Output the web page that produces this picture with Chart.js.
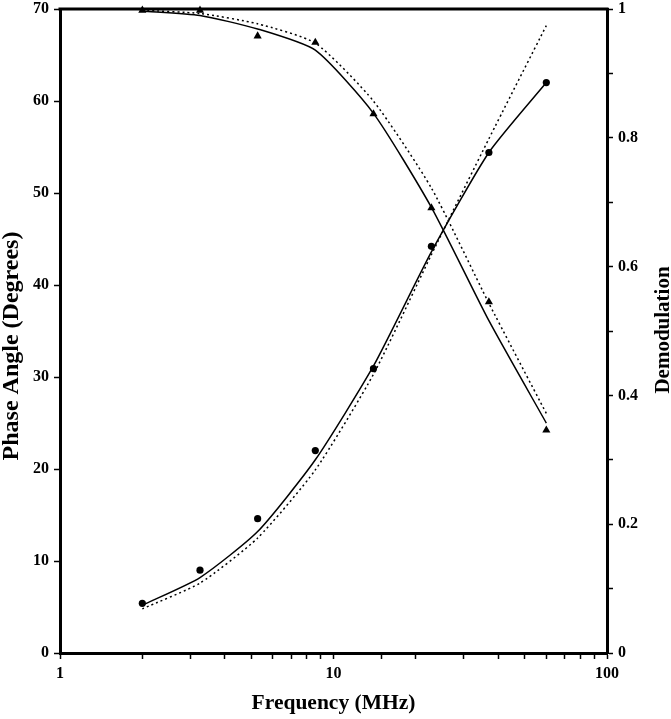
<!DOCTYPE html>
<html>
<head>
<meta charset="utf-8">
<script src="https://cdn.jsdelivr.net/npm/chart.js@4"></script>
<style>
  html, body { margin: 0; padding: 0; background: #fff; }
  #wrap { width: 671px; height: 719px; }
</style>
</head>
<body>
<div id="wrap"><canvas id="freqChart" width="671" height="719"></canvas></div>
<script>
// Frequency-domain data (MHz)
const frequencies = [2, 3.25, 5.28, 8.58, 14, 22.8, 37, 60];

// Phase angle (degrees), left axis
const phaseMeasured = [5.4, 9.0, 14.6, 22.0, 30.9, 44.2, 54.4, 62.0];
const phaseFitSolid = [5.2, 8.2, 13.2, 21.0, 31.2, 43.6, 54.4, 62.0];
const phaseFitDotted = [4.8, 7.6, 12.5, 19.9, 30.3, 43.3, 55.9, 68.2];

// Demodulation, right axis
const demodMeasured = [0.998, 0.998, 0.958, 0.948, 0.837, 0.691, 0.545, 0.346];
const demodFitSolid = [0.997, 0.990, 0.969, 0.936, 0.838, 0.692, 0.516, 0.357];
const demodFitDotted = [0.998, 0.993, 0.977, 0.947, 0.857, 0.722, 0.543, 0.372];

// Tick labels
const xTickLabels = [1, 10, 100];

const pairs = (ys) => frequencies.map((f, i) => ({ x: f, y: ys[i] }));

const serif = "'Liberation Serif', 'Times New Roman', serif";
const tickFont = { family: serif, size: 16, weight: "bold" };

// top frame line + both vertical axis titles (both read bottom to top)
const framePlugin = {
  id: "frame",
  afterDraw(chart) {
    const { ctx, chartArea } = chart;
    ctx.save();
    ctx.strokeStyle = "#000";
    ctx.lineWidth = 3;
    ctx.beginPath();
    ctx.moveTo(chartArea.left - 1.5, chartArea.top);
    ctx.lineTo(chartArea.right + 1.5, chartArea.top);
    ctx.stroke();
    ctx.restore();

    const vTitle = (text, x, y, size) => {
      ctx.save();
      ctx.translate(x, y);
      ctx.rotate(-Math.PI / 2);
      ctx.fillStyle = "#000";
      ctx.font = "bold " + size + "px " + serif;
      ctx.textAlign = "center";
      ctx.textBaseline = "alphabetic";
      ctx.fillText(text, 0, 0);
      ctx.restore();
    };
    vTitle("Phase Angle (Degrees)", 17.5, 346, 24);
    vTitle("Demodulation", 669, 330, 21);
  }
};

const lineSet = (data, axis, dashed) => ({
  data: pairs(data),
  yAxisID: axis,
  showLine: true,
  borderColor: "#000",
  borderWidth: 1.5,
  borderDash: dashed ? [2, 3] : [],
  pointRadius: 0,
  tension: 0.2,
  order: 2
});

const pointSet = (data, axis, style, r) => ({
  data: pairs(data),
  yAxisID: axis,
  showLine: false,
  pointStyle: style,
  pointRadius: r,
  backgroundColor: "#000",
  borderColor: "#000",
  borderWidth: 0,
  clip: false,
  order: 1
});

const tickGrid = { display: true, drawOnChartArea: false, drawTicks: true, tickLength: 6, tickWidth: 1.5, tickColor: "#000" };

// fixed axis widths, no extra room for the end labels
const fixWidth = (w) => (s) => { s.width = w; s.paddingTop = 0; s.paddingBottom = 0; };

new Chart(document.getElementById("freqChart"), {
  type: "scatter",
  data: {
    datasets: [
      pointSet(phaseMeasured, "y", "circle", 3.6),
      pointSet(demodMeasured, "y1", "triangle", 4.7),
      lineSet(phaseFitSolid, "y", false),
      lineSet(phaseFitDotted, "y", true),
      lineSet(demodFitSolid, "y1", false),
      lineSet(demodFitDotted, "y1", true)
    ]
  },
  options: {
    responsive: false,
    animation: false,
    devicePixelRatio: 1,
    layout: { padding: { top: 9, left: 0, right: 0, bottom: 0 } },
    plugins: {
      legend: { display: false },
      tooltip: { enabled: false }
    },
    scales: {
      x: {
        type: "logarithmic",
        min: 1,
        max: 100,
        afterFit: (s) => { s.height = 66; },
        border: { display: true, color: "#000", width: 3 },
        grid: tickGrid,
        ticks: {
          color: "#000",
          font: tickFont,
          padding: 5,
          autoSkip: false,
          maxRotation: 0,
          callback: (v) => xTickLabels.includes(v) ? String(v) : ""
        },
        title: {
          display: true,
          text: "Frequency (MHz)",
          color: "#000",
          font: { family: serif, size: 21.5, weight: "bold" },
          padding: { top: 0, bottom: 3 }
        }
      },
      y: {
        position: "left",
        min: 0,
        max: 70,
        afterFit: fixWidth(60),
        border: { display: true, color: "#000", width: 3 },
        grid: tickGrid,
        ticks: { stepSize: 10, color: "#000", font: tickFont, padding: 5 }
      },
      y1: {
        position: "right",
        min: 0,
        max: 1,
        afterFit: fixWidth(64),
        border: { display: true, color: "#000", width: 3 },
        grid: tickGrid,
        ticks: {
          stepSize: 0.1,
          color: "#000",
          font: tickFont,
          padding: 5,
          autoSkip: false,
          callback: (v) => {
            const k = Math.round(v * 10);
            if (k % 2) return "";
            if (k === 0) return "0";
            if (k === 10) return "1";
            return (k / 10).toFixed(1);
          }
        }
      }
    }
  },
  plugins: [framePlugin]
});
</script>
</body>
</html>
